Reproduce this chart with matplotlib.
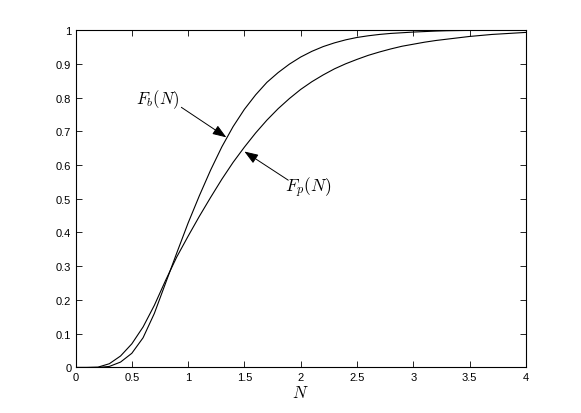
import matplotlib
matplotlib.use('Agg')
import matplotlib.pyplot as plt
import numpy as np

plt.rcParams['font.family'] = ['Liberation Sans', 'DejaVu Sans']
plt.rcParams['mathtext.fontset'] = 'cm'

# values, N = 0 ... 4 in steps of 0.1
N = [0.0, 0.1, 0.2, 0.3, 0.4, 0.5, 0.6, 0.7, 0.8, 0.9,
     1.0, 1.1, 1.2, 1.3, 1.4, 1.5, 1.6, 1.7, 1.8, 1.9,
     2.0, 2.1, 2.2, 2.3, 2.4, 2.5, 2.6, 2.7, 2.8, 2.9,
     3.0, 3.1, 3.2, 3.3, 3.4, 3.5, 3.6, 3.7, 3.8, 3.9, 4.0]

F_b = [0.0, 0.0, 0.0, 0.003, 0.016, 0.042, 0.088, 0.160, 0.250, 0.340,
       0.428, 0.509, 0.585, 0.654, 0.714, 0.765, 0.808, 0.845, 0.874, 0.899,
       0.920, 0.937, 0.951, 0.962, 0.971, 0.978, 0.983, 0.987, 0.990, 0.992,
       0.994, 0.9955, 0.997, 0.998, 0.9985, 0.999, 0.9993, 0.9995, 0.9997, 0.9998, 0.9999]

F_p = [0.0, 0.0, 0.001, 0.011, 0.034, 0.070, 0.120, 0.184, 0.258, 0.328,
       0.389, 0.448, 0.504, 0.558, 0.608, 0.653, 0.695, 0.733, 0.767, 0.797,
       0.824, 0.847, 0.867, 0.885, 0.900, 0.913, 0.925, 0.935, 0.944, 0.952,
       0.958, 0.964, 0.969, 0.973, 0.977, 0.981, 0.984, 0.987, 0.989, 0.991, 0.993]

xticks = [0, 0.5, 1, 1.5, 2, 2.5, 3, 3.5, 4]
yticks = [0, 0.1, 0.2, 0.3, 0.4, 0.5, 0.6, 0.7, 0.8, 0.9, 1]

fig = plt.figure(figsize=(5.81, 4.14), dpi=100)
ax = fig.add_axes([0.13, 0.11, 0.775, 0.815])

ax.plot(N, F_b, color='k', lw=0.8)
ax.plot(N, F_p, color='k', lw=0.8)

ax.set_xlim(0, 4)
ax.set_ylim(0, 1)
ax.set_xticks(xticks)
ax.set_yticks(yticks)
ax.set_xticklabels(['%g' % v for v in xticks], fontsize=8)
ax.set_yticklabels(['%g' % v for v in yticks], fontsize=8)
ax.tick_params(direction='in', top=True, right=True, length=4, width=0.6, pad=3)
for s in ax.spines.values():
    s.set_linewidth(0.8)
ax.set_xlabel('$N$', fontsize=12, labelpad=2)

# labels with arrows
arrow = dict(arrowstyle='-|>,head_length=0.6,head_width=0.22', color='k', lw=0.7,
             mutation_scale=14, shrinkA=0, shrinkB=0)
ax.text(0.73, 0.796, '$F_b(N)$', fontsize=12, ha='center', va='center')
ax.annotate('', xy=(1.34, 0.682), xytext=(0.94, 0.771), arrowprops=arrow)
ax.text(2.07, 0.535, '$F_p(N)$', fontsize=12.5, ha='center', va='center')
ax.annotate('', xy=(1.50, 0.640), xytext=(1.89, 0.555), arrowprops=arrow)

fig.savefig('out.png', dpi=100)
